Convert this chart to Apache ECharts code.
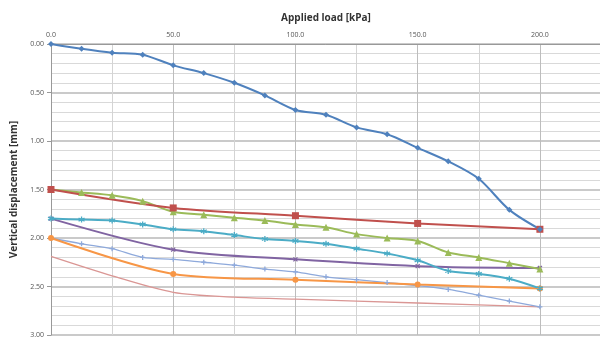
<!DOCTYPE html>
<html><head><meta charset="utf-8">
<script src="https://cdn.jsdelivr.net/npm/echarts@6/dist/echarts.min.js"></script>
<style>html,body{margin:0;padding:0;background:#fff}#c{width:600px;height:338px}</style>
</head><body><div id="c"></div>
<script>
var loads12 = [0,12.5,25,37.5,50,62.5,75,87.5,100,112.5,125,137.5,150,162.5,175,187.5,200];
var loads50 = [0,50,100,150,200];
var loadsPink = [0,25,50,75,100,150,200];
var blueVals   = [0.00,0.05,0.09,0.11,0.22,0.30,0.40,0.53,0.68,0.73,0.86,0.93,1.07,1.21,1.39,1.71,1.91];
var redVals    = [1.50,1.69,1.77,1.85,1.91];
var greenVals  = [1.50,1.53,1.56,1.62,1.73,1.76,1.79,1.82,1.86,1.89,1.96,2.00,2.03,2.15,2.20,2.26,2.32];
var cyanVals   = [1.80,1.81,1.82,1.86,1.91,1.93,1.97,2.01,2.03,2.06,2.11,2.16,2.23,2.34,2.37,2.42,2.52];
var purpleVals = [1.80,2.12,2.22,2.29,2.31];
var ltBlueVals = [2.00,2.06,2.11,2.20,2.22,2.25,2.28,2.32,2.35,2.40,2.43,2.46,2.49,2.53,2.59,2.65,2.71];
var orangeVals = [2.00,2.37,2.43,2.48,2.52];
var pinkVals   = [2.19,2.39,2.56,2.61,2.63,2.67,2.71];
var xTitle = 'Applied load [kPa]';
var yTitle = 'Vertical displacement [mm]';

function pairs(xs, ys){ return xs.map(function(x,i){ return [x, ys[i]]; }); }
var asterisk = 'path://M0,-10 L0,10 M-8.7,-5 L8.7,5 M-8.7,5 L8.7,-5';
var cross = 'path://M-7,-7 L7,7 M-7,7 L7,-7';
var plus = 'path://M0,-8 L0,8 M-8,0 L8,0';

function mk(name, xs, ys, color, symbol, size, width, smooth, stroke){
  var s = {name:name, type:'line', data:pairs(xs,ys), smooth:smooth,
    lineStyle:{color:color, width:width}, itemStyle:{color:color},
    symbol:symbol, symbolSize:size, showSymbol: symbol!=='none', animation:false};
  if (stroke) s.itemStyle = {color:'rgba(0,0,0,0)', borderColor:color, borderWidth:1.3};
  return s;
}
var chart = echarts.init(document.getElementById('c'));
var ff = 'Open Sans, Liberation Sans, sans-serif';
chart.setOption({
  animation:false,
  grid:{left:51, right:-1, top:44, bottom:3, containLabel:false, outerBoundsMode:'none'},
  xAxis:{type:'value', position:'top', min:0, max:225, interval:50,
    name:xTitle, nameLocation:'middle', nameGap:21,
    nameTextStyle:{fontFamily:ff, fontWeight:'bold', fontSize:10, color:'#333'},
    axisLine:{show:true, lineStyle:{color:'#999'}}, axisTick:{show:false},
    axisLabel:{fontFamily:ff, fontSize:7, color:'#555', margin:6, showMaxLabel:false, hideOverlap:false,
      formatter:function(v){return v>210 ? '' : v.toFixed(1);}},
    splitLine:{show:true, lineStyle:{color:'#bdbdbd', width:1}},
    minorTick:{show:false, splitNumber:2},
    minorSplitLine:{show:true, lineStyle:{color:'#d4d4d4', width:1}}},
  yAxis:{type:'value', inverse:true, min:0, max:3, interval:0.5,
    name:yTitle, nameLocation:'middle', nameGap:29,
    nameTextStyle:{fontFamily:ff, fontWeight:'bold', fontSize:10, color:'#333'},
    axisLine:{show:true, lineStyle:{color:'#999'}},
    axisTick:{show:true, length:4, lineStyle:{color:'#999'}},
    axisLabel:{fontFamily:ff, fontSize:7, color:'#555', margin:7, formatter:function(v){return v.toFixed(2);}},
    splitLine:{show:true, lineStyle:{color:'#b8b8b8', width:1.5}},
    minorTick:{show:false, splitNumber:5},
    minorSplitLine:{show:true, lineStyle:{color:'#d9d9d9', width:1}}},
  series:[
    mk('pink', loadsPink, pinkVals, '#DA9694', 'none', 0, 1.3, 0.3),
    mk('ltblue', loads12, ltBlueVals, '#8EA9DB', plus, 5, 1.3, 0.3, true),
    mk('orange', loads50, orangeVals, '#F79646', 'circle', 6, 2, 0.3),
    mk('purple', loads50, purpleVals, '#8064A2', cross, 4, 2, 0.3, true),
    mk('cyan', loads12, cyanVals, '#4BACC6', asterisk, 6, 2, 0.3, true),
    mk('green', loads12, greenVals, '#9BBB59', 'triangle', 7, 2, 0.3),
    mk('red', loads50, redVals, '#C0504D', 'rect', 7, 2, 0.3),
    mk('blue', loads12, blueVals, '#4F81BD', 'diamond', 6, 2, 0.3)
  ]
});
</script></body></html>
